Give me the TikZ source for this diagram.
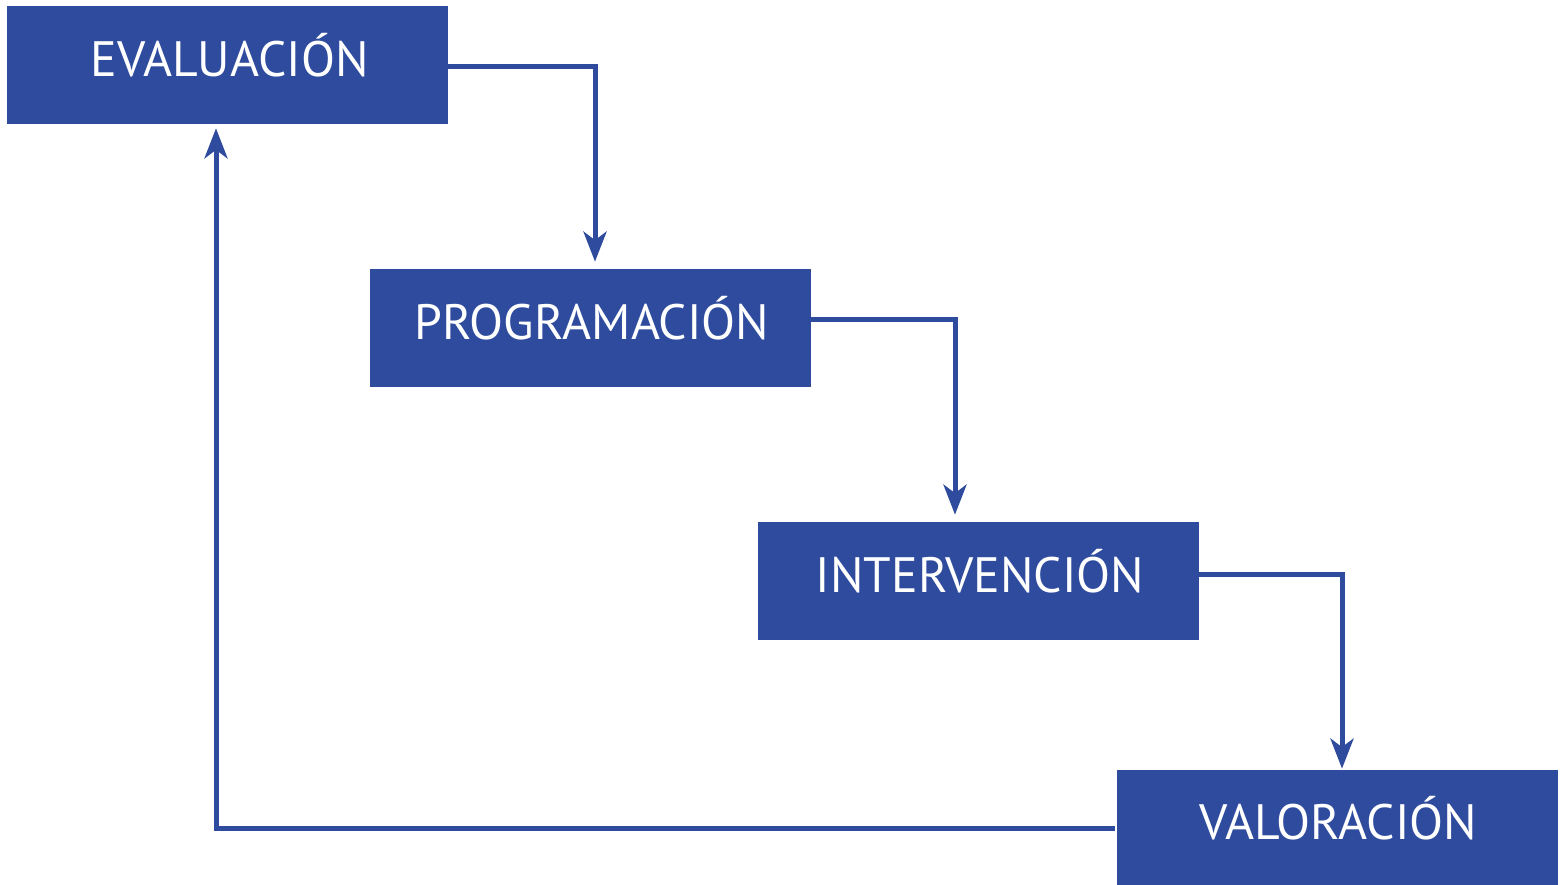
\documentclass[tikz,border=0pt]{standalone}
\usepackage{fontspec}
\setmainfont{PT Sans}
\usetikzlibrary{arrows.meta}
\definecolor{boxblue}{HTML}{2F4B9E}
\begin{document}
\begin{tikzpicture}[x=0.02cm,y=-0.02cm,
  blockbox/.style={fill=boxblue,draw=none,minimum width=8.82cm,minimum height=2.36cm,inner sep=0pt},
  lbl/.style={text=white,font=\fontsize{28.3}{28.3}\selectfont,anchor=base,inner sep=0pt},
  link/.style={draw=boxblue,line width=0.1cm,-{Stealth[length=0.6cm,width=0.46cm,inset=0.17cm]}}]
\useasboundingbox (0,0) rectangle (1563,885);
\node[blockbox] (eval) at (227.5,65) {};
\node[blockbox] (prog) at (590.5,328) {};
\node[blockbox] (inte) at (978.5,581) {};
\node[blockbox,minimum height=2.3cm] (valo) at (1337.5,827.5) {};
\node[lbl] (teval) at (229.5,77) {EVALUACIÓN};
\node[lbl] (tprog) at (592,339) {PROGRAMACIÓN};
\node[lbl] (tinte) at (980,592) {INTERVENCIÓN};
\node[lbl] (tvalo) at (1338,839) {VALORACIÓN};
\coordinate (c1) at (595,67);
\coordinate (c2) at (955,320);
\coordinate (c3) at (1342,574);
\coordinate (c4) at (216,828);
\draw[link] (eval.east |- c1) -- (c1) -- ([yshift=0.14cm]c1 |- prog.north);
\draw[link] (prog.east |- c2) -- (c2) -- ([yshift=0.14cm]c2 |- inte.north);
\draw[link] (inte.east |- c3) -- (c3) -- ([yshift=0.02cm]c3 |- valo.north);
\draw[link] ([xshift=-0.04cm]valo.west |- c4) -- (c4) -- ([yshift=-0.08cm]c4 |- eval.south);
\end{tikzpicture}
\end{document}
